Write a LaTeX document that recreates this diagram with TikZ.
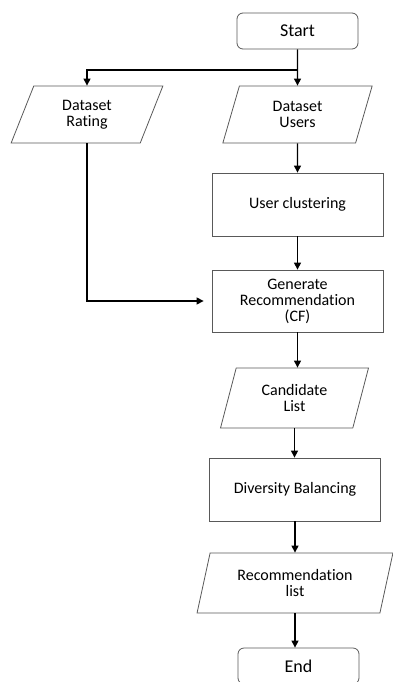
\documentclass[tikz,border=0pt]{standalone}
\usepackage{fontspec}
\setmainfont{Carlito}[Ligatures=NoCommon]
\usetikzlibrary{shapes.geometric,arrows.meta}

\begin{document}
\begin{tikzpicture}
            [every node/.style={inner sep=0pt, align=center, font=\fontsize{16}{16}\selectfont},
             endbox/.style={rectangle, rounded corners=6pt, minimum width=121pt, minimum height=36pt, draw=black!65, line width=0.8pt, font=\fontsize{18}{18}\selectfont},
             procbox/.style={rectangle, minimum width=171pt, minimum height=63pt, draw=black!65, line width=0.8pt},
             databox/.style 2 args={trapezium, trapezium stretches=true, trapezium left angle=#1, trapezium right angle=#2, draw=black!65, line width=0.8pt},
             arr/.style={line width=1.2pt, -{Triangle[width=7pt,length=7pt]}, color=black}]
                \useasboundingbox (0pt, 0pt) rectangle (393pt, -682pt);
                \clip (0pt, 0pt) rectangle (393pt, -682pt);
                \node (start) [endbox] at (297.5pt, -31pt) {Start};
                \node (rating) [databox={70}{110}, minimum width=152pt, minimum height=57pt] at (87pt, -114.5pt) {Dataset\\Rating};
                \node (users) [databox={75}{105}, minimum width=150pt, minimum height=57pt] at (297.5pt, -114.5pt) {Dataset\\Users};
                \node (clust) [procbox] at (297.5pt, -204.5pt) {User clustering};
                \node (gen) [procbox, minimum height=62pt] at (297.5pt, -301pt) {Generate\\Recommendation\\(CF)};
                \node (cand) [databox={72}{108}, minimum width=149pt, minimum height=60pt] at (294.5pt, -398pt) {Candidate\\List};
                \node (div) [procbox] at (295pt, -489.5pt) {Diversity Balancing};
                \node (rec) [databox={72}{108}, minimum width=196pt, minimum height=60pt] at (295pt, -583pt) {Recommendation\\list};
                \node (end) [endbox] at (298.5pt, -666pt) {End};
                \coordinate (split) at (297.5pt, -70pt);
                \draw [arr] (start) to (users);
                \draw [arr] (split) -| (rating);
                \draw [arr] (users) to (clust);
                \draw [arr] (clust) to (gen);
                \draw [arr, shorten >=8pt] (rating) |- (gen);
                \draw [arr] (gen.south) to (gen.south |- cand.north);
                \draw [arr] (cand.south) to (cand.south |- div.north);
                \draw [arr] (div.south) to (div.south |- rec.north);
                \draw [arr] (rec.south) to (rec.south |- end.north);
            \end{tikzpicture}
\end{document}
